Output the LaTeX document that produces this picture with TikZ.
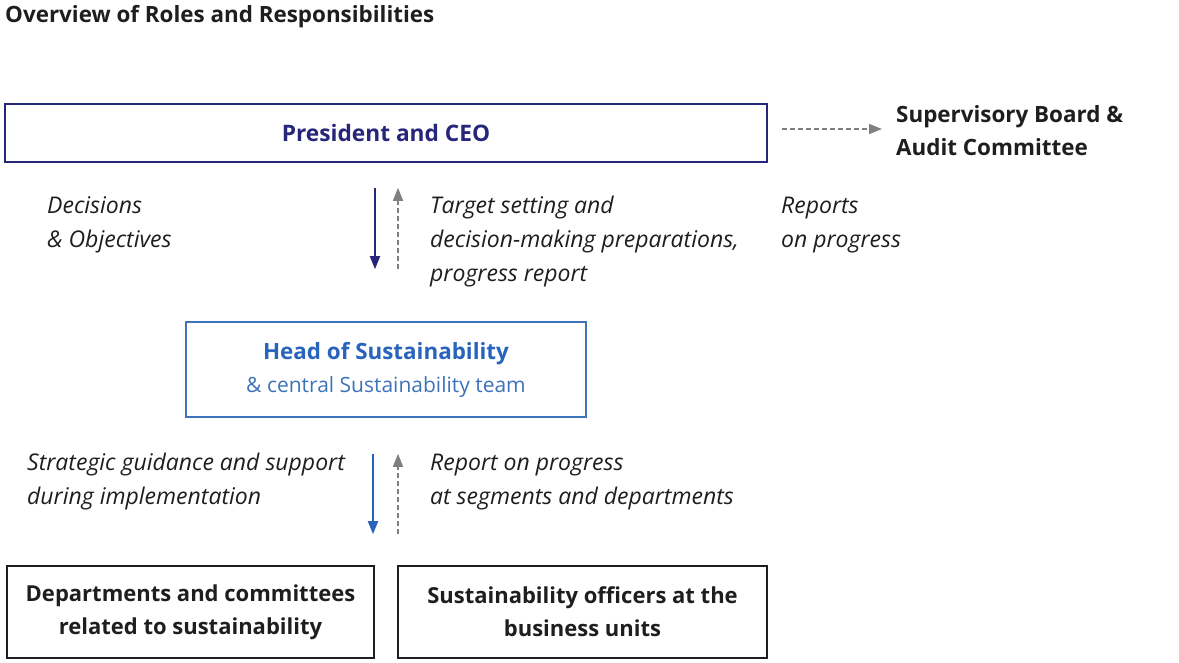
\documentclass[tikz,border=0pt]{standalone}
\usepackage{fontspec}
\setmainfont{Open Sans}
\usetikzlibrary{arrows.meta}

\definecolor{navy}{RGB}{38,38,122}
\definecolor{midblue}{RGB}{40,100,190}
\definecolor{boxblue}{RGB}{60,115,185}
\definecolor{dgray}{RGB}{128,128,128}
\definecolor{ink}{RGB}{30,30,30}

\begin{document}
\begin{tikzpicture}[x=1pt,y=-1pt,
    box/.style={draw,line width=1.6pt,inner sep=0pt,align=center},
    note/.style={inner sep=0pt,align=left,anchor=west,text=ink,font=\fontsize{23}{34}\selectfont\itshape},
    down/.style={-{Triangle[length=13pt,width=10pt]},line width=1.8pt},
    up/.style={-{Triangle[length=13pt,width=10pt]},line width=1.6pt,dgray,dash pattern=on 5pt off 3pt}]
    \useasboundingbox (0,0) rectangle (1179,663);

    \node[anchor=west,inner sep=0pt,text=ink,font=\fontsize{22.4}{26}\selectfont\bfseries] (title) at (5,17) {Overview of Roles and Responsibilities};

    \node[box,draw=navy,text=navy,minimum width=762pt,minimum height=58pt,font=\fontsize{22.7}{26}\selectfont\bfseries] (ceo) at (386,133) {President and CEO};
    \node[box,draw=boxblue,text=midblue,minimum width=400pt,minimum height=95pt,font=\fontsize{22.4}{33}\selectfont] (head) at (386,369.5) {\textbf{Head of Sustainability}\\ \textcolor{boxblue}{\fontsize{21}{33}\selectfont\& central Sustainability team}};
    \node[box,draw=ink,text=ink,minimum width=367pt,minimum height=92pt,font=\fontsize{22}{33}\selectfont\bfseries] (dept) at (190.5,612) {Departments and committees\\ related to sustainability};
    \node[box,draw=ink,text=ink,minimum width=369pt,minimum height=92pt,font=\fontsize{22}{33}\selectfont\bfseries] (off) at (582.5,612) {Sustainability officers at the\\ business units};
    \node[anchor=west,inner sep=0pt,align=left,text=ink,font=\fontsize{22.4}{33}\selectfont\bfseries] (board) at (896,130.5) {Supervisory Board \&\\ Audit Committee};

    \node[note] (decide) at (47,225) {Decisions\\ \& Objectives};
    \node[note] (target) at (430,242) {Target setting and\\ decision-making preparations,\\ progress report};
    \node[note] (reports) at (781,225) {Reports\\ on progress};
    \node[note] (guide) at (27,482) {Strategic guidance and support\\ during implementation};
    \node[note] (progress) at (430,482) {Report on progress\\ at segments and departments};

    \draw[down,navy,shorten <=25pt,shorten >=52pt] ([xshift=-11pt]ceo.south) -- ([xshift=-11pt]head.north);
    \draw[up,shorten <=52pt,shorten >=25pt] ([xshift=12pt]head.north) -- ([xshift=12pt]ceo.south);
    \draw[down,midblue,shorten <=36pt,shorten >=31pt] ([xshift=-13pt]head.south) -- ([xshift=-13pt]head.south |- dept.north);
    \draw[up,shorten <=31pt,shorten >=36pt] ([xshift=12pt]head.south |- off.north) -- ([xshift=12pt]head.south);
    \draw[up,shorten <=14pt,shorten >=14pt] ([yshift=4pt]ceo.east) -- ([yshift=4pt]ceo.east -| board.west);
\end{tikzpicture}
\end{document}
